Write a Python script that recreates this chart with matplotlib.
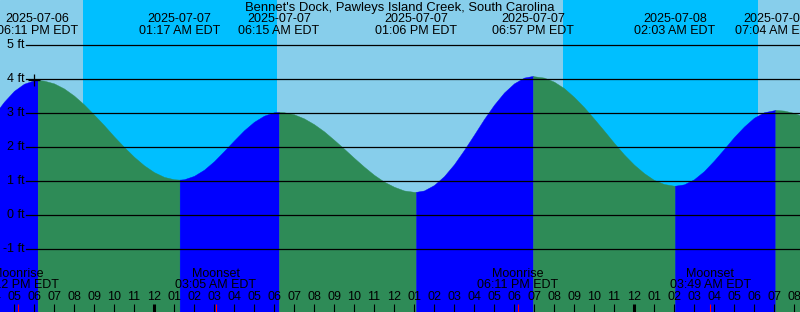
import matplotlib
matplotlib.use('Agg')
import matplotlib.pyplot as plt
from datetime import datetime

plt.rcParams['font.family'] = ['Liberation Sans', 'DejaVu Sans']

# ---------------- data ----------------
title = "Bennet's Dock, Pawleys Island Creek, South Carolina"
base_date = "2025-07-06"

# water level every half hour (hours since 2025-07-06 00:00 EDT)
sample_times = [t / 2 for t in range(32, 115)]
sample_heights = [
    2.95, 3.34, 3.66, 3.87, 3.97, 3.96, 3.88, 3.73, 3.52, 3.26,
    2.96, 2.65, 2.32, 2.01, 1.72, 1.47, 1.27, 1.13, 1.06, 1.06,
    1.16, 1.34, 1.59, 1.89, 2.20, 2.50, 2.75, 2.93, 3.03, 3.03,
    2.97, 2.85, 2.68, 2.47, 2.22, 1.96, 1.69, 1.43, 1.19, 0.99,
    0.84, 0.73, 0.69, 0.73, 0.89, 1.15, 1.50, 1.92, 2.37, 2.83,
    3.25, 3.61, 3.88, 4.05, 4.09, 4.05, 3.93, 3.74, 3.48, 3.18,
    2.84, 2.49, 2.13, 1.79, 1.49, 1.24, 1.04, 0.92, 0.87, 0.91,
    1.06, 1.30, 1.61, 1.95, 2.30, 2.61, 2.87, 3.03, 3.09, 3.08,
    3.01, 2.90, 2.75,
]

# tide events
event_dates = ['2025-07-06', '2025-07-07', '2025-07-07', '2025-07-07',
               '2025-07-07', '2025-07-08', '2025-07-08']
event_times = ['06:11 PM', '01:17 AM', '06:15 AM', '01:06 PM',
               '06:57 PM', '02:03 AM', '07:04 AM']
event_heights = [3.98, 1.05, 3.04, 0.69, 4.10, 0.87, 3.10]
event_kinds = ['high', 'low', 'high', 'low', 'high', 'low', 'high']

# moon events
moon_labels = ['Moonrise', 'Moonset', 'Moonrise', 'Moonset']
moon_dates = ['2025-07-06', '2025-07-07', '2025-07-07', '2025-07-08']
moon_times = ['05:12 PM', '03:05 AM', '06:11 PM', '03:49 AM']

# night (sunset -> sunrise)
sunset_dates = ['2025-07-06', '2025-07-07']
sunset_times = ['08:27 PM', '08:27 PM']
sunrise_dates = ['2025-07-07', '2025-07-08']
sunrise_times = ['06:08 AM', '06:13 AM']

# "now" marker
now_time = ('2025-07-06', '06:00 PM')
now_height = 3.98

y_levels = [-1, 0, 1, 2, 3, 4, 5]

# ---------------- helpers ----------------
BASE = datetime.strptime(base_date, "%Y-%m-%d")


def hrs(d, t):
    dt = datetime.strptime(f"{d} {t}", "%Y-%m-%d %I:%M %p")
    return (dt - BASE).total_seconds() / 3600.0


X0, X1 = 16.3, 56.3            # 20 px per hour over 800 px
PX_ZERO, PX_PER_FT = 215.3, 34.0
H_PX = 312


def ft(py):  # pixel row (from top) -> feet
    return (PX_ZERO - py) / PX_PER_FT


DAY = '#87CEEB'
NIGHT = '#00BFFF'
RISE = '#0000FF'
FALL = '#2E8B57'
FS = 9.0
FS_TITLE = 9.4

fig = plt.figure(figsize=(8.0, 3.12), dpi=100)
ax = fig.add_axes([0, 0, 1, 1])
ax.set_xlim(X0, X1)
ax.set_ylim(ft(H_PX), ft(0))
ax.axis('off')
ax.add_patch(plt.Rectangle((0, 0), 1, 1, transform=ax.transAxes,
                           color=DAY, zorder=0))

for sd, st, rd, rt in zip(sunset_dates, sunset_times, sunrise_dates, sunrise_times):
    ax.axvspan(hrs(sd, st), hrs(rd, rt), color=NIGHT, lw=0, zorder=1)

# curve points
ev_t = [hrs(d, t) for d, t in zip(event_dates, event_times)]
pts = sorted(list(zip(sample_times, sample_heights)) + list(zip(ev_t, event_heights)))
bottom = ft(H_PX + 5)

bounds = [-1e9] + ev_t + [1e9]
for i in range(len(bounds) - 1):
    lo, hi = bounds[i], bounds[i + 1]
    seg = [(t, h) for t, h in pts if lo <= t <= hi]
    if len(seg) < 2:
        continue
    if i == 0:
        rising = event_kinds[0] == 'high'
    else:
        rising = event_kinds[i - 1] == 'low'
    ts = [p[0] for p in seg]
    hs = [p[1] for p in seg]
    c = RISE if rising else FALL
    ax.fill_between(ts, bottom, hs, color=c, lw=0.3, edgecolor=c, zorder=2)

# horizontal level lines and labels
ytr = ax.get_yaxis_transform()
for lv in y_levels:
    ax.plot([26 / 800, 1], [lv, lv], transform=ytr, color='black', lw=0.9, zorder=3)
    ax.text(24.5 / 800, lv, f"{lv} ft", transform=ytr, ha='right', va='center',
            fontsize=FS, zorder=4)

# title
ax.text(0.5, ft(8.0), title, transform=ytr, ha='center', va='center',
        fontsize=FS_TITLE, zorder=4)

# tide event labels
for d, t, x in zip(event_dates, event_times, ev_t):
    ax.text(x, ft(19.5), d, ha='center', va='center', fontsize=FS, zorder=4)
    ax.text(x, ft(31.5), f"{t} EDT", ha='center', va='center', fontsize=FS, zorder=4)

# now marker
ax.plot([hrs(*now_time)], [now_height], marker='+', color='black', ms=8, mew=0.9, zorder=5)

# hour ticks and labels
tick_top, tick_bot = ft(304), ft(H_PX + 2)
for h in range(16, 58):
    lab = h % 12
    lab = 12 if lab == 0 else lab
    ax.text(h, ft(297.5), f"{lab:02d}", ha='center', va='center', fontsize=FS, zorder=4)
    midnight = (h % 24 == 0)
    ax.plot([h, h], [tick_top, tick_bot], color='black',
            lw=2.2 if midnight else 0.8, solid_capstyle='butt', zorder=4)

# moon events
for lab, d, t in zip(moon_labels, moon_dates, moon_times):
    x = hrs(d, t)
    ax.text(x, ft(274), lab, ha='center', va='center', fontsize=FS, zorder=4)
    ax.text(x, ft(285.5), f"{t} EDT", ha='center', va='center', fontsize=FS, zorder=4)
    ax.plot([x, x], [tick_top, tick_bot], color='red', lw=0.8,
            solid_capstyle='butt', zorder=4)

fig.savefig('out.png', dpi=100)
